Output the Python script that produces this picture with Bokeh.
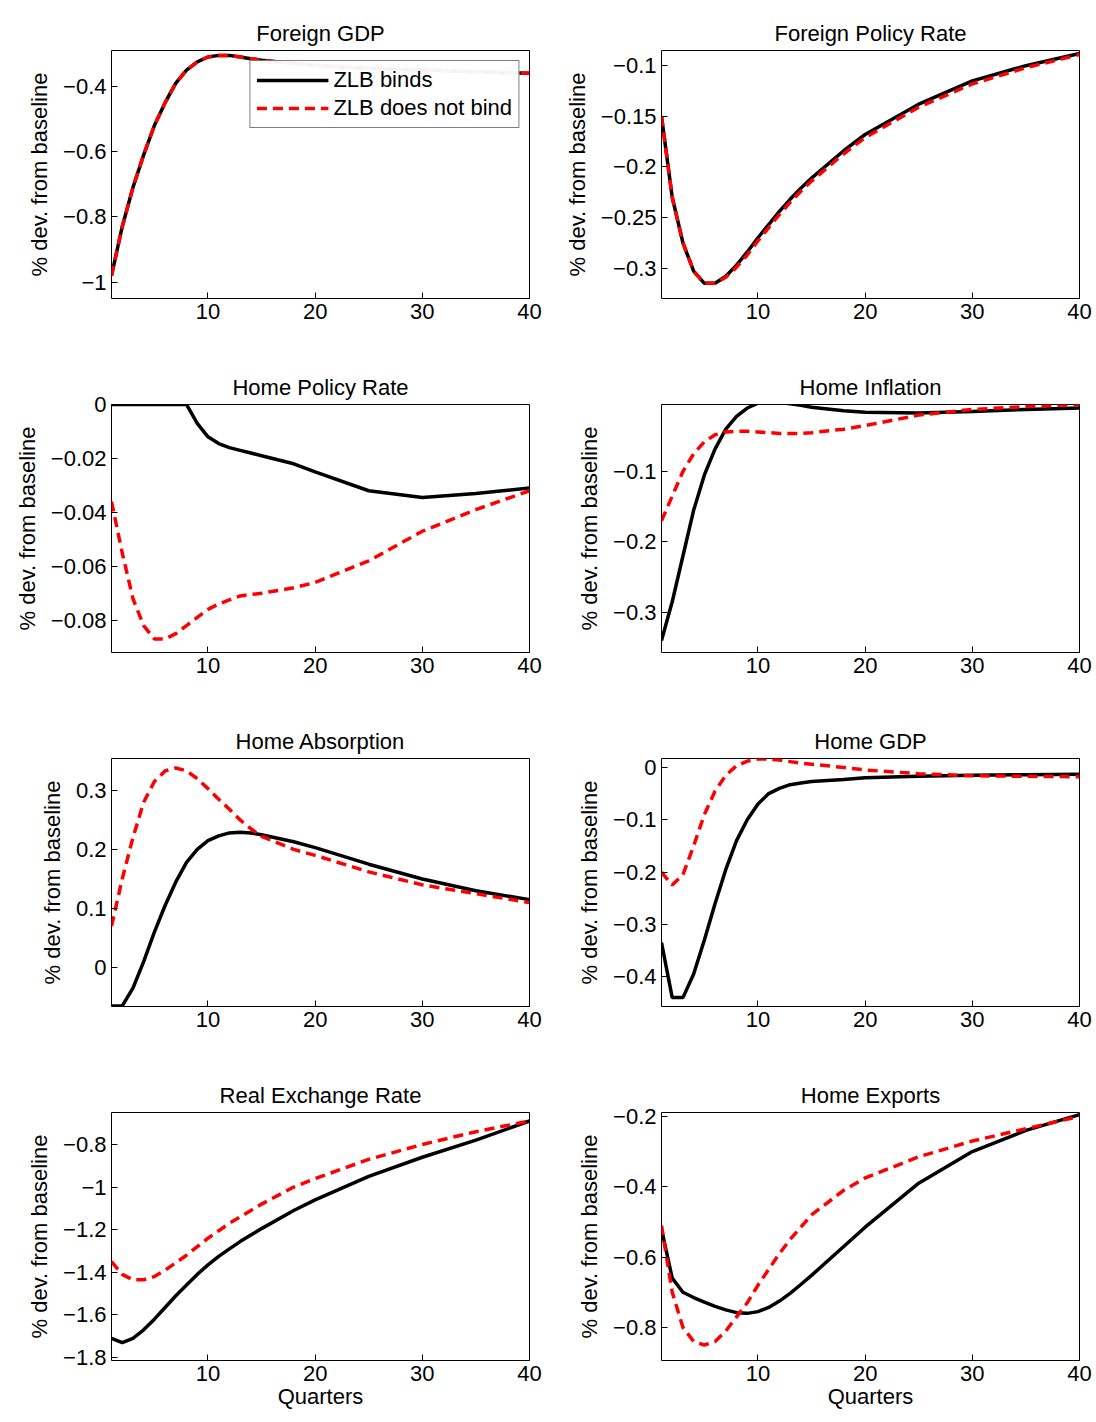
from bokeh.plotting import figure
from bokeh.models import FixedTicker, Range1d, Legend
from bokeh.layouts import gridplot
from bokeh.embed import file_html
from bokeh.resources import INLINE

# datos (trimestres, valores)
q_a = list(range(1, 16)) + [18, 20, 25, 30, 35, 40]

fgdp = [-0.98, -0.83, -0.71, -0.61, -0.52, -0.45, -0.39, -0.35, -0.325, -0.31, -0.305,
        -0.305, -0.31, -0.315, -0.32, -0.33, -0.335, -0.345, -0.35, -0.355, -0.36]

fpr_b = [-0.15, -0.23, -0.275, -0.303, -0.315, -0.315, -0.308, -0.297, -0.284, -0.27,
         -0.257, -0.244, -0.232, -0.221, -0.211, -0.184, -0.168, -0.138, -0.115, -0.1, -0.088]
fpr_r = [-0.15, -0.23, -0.275, -0.303, -0.315, -0.315, -0.309, -0.299, -0.287, -0.273,
         -0.26, -0.247, -0.235, -0.224, -0.214, -0.187, -0.171, -0.141, -0.118, -0.102, -0.089]

hpr_b = [0, 0, 0, 0, 0, 0, 0, 0, -0.007, -0.012, -0.0145, -0.016, -0.017, -0.018, -0.019,
         -0.022, -0.025, -0.032, -0.0345, -0.033, -0.031]
hpr_r = [-0.036, -0.055, -0.072, -0.082, -0.087, -0.087, -0.085, -0.082, -0.079, -0.076,
         -0.074, -0.0725, -0.071, -0.0705, -0.070, -0.068, -0.066, -0.058, -0.047, -0.039, -0.032]

hinf_b = [-0.34, -0.285, -0.22, -0.155, -0.105, -0.068, -0.04, -0.022, -0.01, -0.003,
          -0.001, -0.002, -0.004, -0.006, -0.009, -0.014, -0.016, -0.017, -0.015, -0.012, -0.01]
hinf_r = [-0.17, -0.135, -0.1, -0.075, -0.058, -0.048, -0.044, -0.043, -0.043, -0.044,
          -0.045, -0.046, -0.046, -0.046, -0.045, -0.04, -0.035, -0.02, -0.012, -0.008, -0.005]

habs_b = [-0.065, -0.065, -0.035, 0.01, 0.06, 0.105, 0.145, 0.178, 0.2, 0.215, 0.223,
          0.228, 0.229, 0.228, 0.225, 0.213, 0.203, 0.175, 0.15, 0.13, 0.115]
habs_r = [0.07, 0.15, 0.22, 0.28, 0.315, 0.333, 0.338, 0.333, 0.32, 0.303, 0.285, 0.268,
          0.25, 0.235, 0.222, 0.2, 0.19, 0.162, 0.14, 0.125, 0.11]

hgdp_b = [-0.335, -0.44, -0.44, -0.395, -0.33, -0.26, -0.195, -0.14, -0.1, -0.07, -0.05,
          -0.04, -0.033, -0.03, -0.027, -0.023, -0.02, -0.017, -0.015, -0.014, -0.013]
hgdp_r = [-0.2, -0.225, -0.205, -0.15, -0.09, -0.045, -0.015, 0.003, 0.012, 0.016, 0.016,
          0.014, 0.011, 0.008, 0.006, 0.0, -0.005, -0.012, -0.016, -0.017, -0.018]

rer_b = [-1.71, -1.73, -1.71, -1.67, -1.62, -1.565, -1.51, -1.46, -1.41, -1.365, -1.325,
         -1.29, -1.256, -1.225, -1.195, -1.11, -1.06, -0.95, -0.86, -0.78, -0.69]
rer_r = [-1.35, -1.41, -1.435, -1.435, -1.42, -1.39, -1.355, -1.32, -1.28, -1.24, -1.205,
         -1.17, -1.14, -1.11, -1.08, -1.0, -0.96, -0.87, -0.8, -0.74, -0.69]

hexp_b = [-0.52, -0.66, -0.7, -0.715, -0.728, -0.74, -0.75, -0.758, -0.76, -0.755, -0.743,
          -0.725, -0.703, -0.678, -0.652, -0.57, -0.515, -0.39, -0.3, -0.24, -0.195]
hexp_r = [-0.51, -0.7, -0.8, -0.84, -0.85, -0.84, -0.81, -0.77, -0.73, -0.68, -0.635,
          -0.59, -0.55, -0.515, -0.48, -0.41, -0.375, -0.315, -0.27, -0.235, -0.2]

FONT = "Liberation Sans"


def panel(title, yb, yr, yrange, yticks, col, xlabel=False, legend=False):
    # columna izquierda: 550 px, derecha: 546 px
    left, right = (111, 21) if col == 0 else (111, 17)
    p = figure(width=418 + left + right, height=354, frame_width=418, frame_height=248,
               output_backend="svg", toolbar_location=None,
               x_range=Range1d(1, 40), y_range=Range1d(*yrange),
               min_border_left=left, min_border_right=right,
               min_border_top=50, min_border_bottom=56)
    p.title.text = title
    p.title.align = "center"
    p.title.text_font = FONT
    p.title.text_font_size = "22px"
    p.title.text_font_style = "normal"
    p.title.text_color = "black"
    p.xgrid.visible = False
    p.ygrid.visible = False
    p.outline_line_color = "black"
    p.outline_line_width = 1
    lb = p.line(q_a, yb, line_color="black", line_width=3.5)
    lr = p.line(q_a, yr, line_color="red", line_width=3.5, line_dash="10 6")
    p.xaxis.ticker = FixedTicker(ticks=[10, 20, 30, 40])
    p.yaxis.ticker = FixedTicker(ticks=yticks)
    p.yaxis.major_label_overrides = {t: ("%g" % t).replace("-", "\u2212") for t in yticks}
    for ax in (p.xaxis[0], p.yaxis[0]):
        ax.major_tick_in = 6
        ax.major_tick_out = 0
        ax.minor_tick_line_color = None
        ax.axis_line_color = None
        ax.major_label_text_font = FONT
        ax.major_label_text_font_size = "22px"
        ax.major_label_text_color = "black"
        ax.axis_label_text_font = FONT
        ax.axis_label_text_font_size = "22px"
        ax.axis_label_text_font_style = "normal"
        ax.axis_label_text_color = "black"
    p.yaxis.axis_label = "% dev. from baseline"
    p.yaxis.axis_label_standoff = 8
    if xlabel:
        p.xaxis.axis_label = "Quarters"
        p.xaxis.axis_label_standoff = 0
    if legend:
        lg = Legend(items=[("ZLB binds", [lb]), ("ZLB does not bind", [lr])],
                    location="top_right")
        lg.label_text_font = FONT
        lg.label_text_font_size = "22px"
        lg.label_text_color = "black"
        lg.border_line_color = "black"
        lg.glyph_width = 72
        lg.spacing = 2
        lg.padding = 6
        lg.margin = 10
        p.add_layout(lg)
    return p


plots = [
    panel("Foreign GDP", fgdp, fgdp, (-1.05, -0.29), [-1, -0.8, -0.6, -0.4], 0, legend=True),
    panel("Foreign Policy Rate", fpr_b, fpr_r, (-0.33, -0.085), [-0.3, -0.25, -0.2, -0.15, -0.1], 1),
    panel("Home Policy Rate", hpr_b, hpr_r, (-0.092, 0), [-0.08, -0.06, -0.04, -0.02, 0], 0),
    panel("Home Inflation", hinf_b, hinf_r, (-0.357, -0.005), [-0.3, -0.2, -0.1], 1),
    panel("Home Absorption", habs_b, habs_r, (-0.066, 0.354), [0, 0.1, 0.2, 0.3], 0),
    panel("Home GDP", hgdp_b, hgdp_r, (-0.457, 0.017), [-0.4, -0.3, -0.2, -0.1, 0], 1),
    panel("Real Exchange Rate", rer_b, rer_r, (-1.814, -0.65), [-1.8, -1.6, -1.4, -1.2, -1, -0.8], 0, xlabel=True),
    panel("Home Exports", hexp_b, hexp_r, (-0.894, -0.189), [-0.8, -0.6, -0.4, -0.2], 1, xlabel=True),
]

p = gridplot(plots, ncols=2, toolbar_location=None)

open("out.html", "w").write(file_html(p, INLINE))
